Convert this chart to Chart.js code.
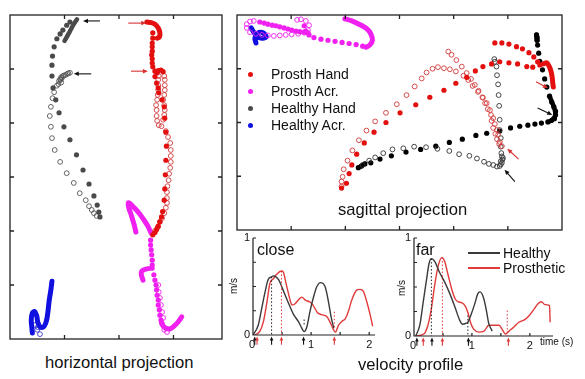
<!DOCTYPE html>
<html><head><meta charset="utf-8">
<script src="https://cdn.jsdelivr.net/npm/chart.js@4.4.0/dist/chart.umd.min.js"></script>
<style>
body{margin:0;background:#fff;width:585px;height:379px;overflow:hidden;position:relative;font-family:"Liberation Sans",Arial,sans-serif;color:#111;}
canvas{position:absolute;}
.t{position:absolute;white-space:nowrap;line-height:1;}
.dot{position:absolute;width:5px;height:5px;border-radius:50%;}
.ln{position:absolute;height:1.5px;width:32px;}
</style></head><body>
<canvas id="cH" style="left:0;top:0" width="230" height="345"></canvas>
<canvas id="cS" style="left:230px;top:0" width="355" height="235"></canvas>
<canvas id="cC" style="left:230px;top:225px" width="178" height="154"></canvas>
<canvas id="cF" style="left:400px;top:225px" width="185" height="154"></canvas>

<div class="t" style="left:45px;top:355px;font-size:16.6px">horizontal projection</div>
<div class="t" style="left:338px;top:202px;font-size:16.6px">sagittal projection</div>
<div class="t" style="left:358px;top:357px;font-size:16.6px">velocity profile</div>
<div class="t" style="left:257px;top:242px;font-size:16px">close</div>
<div class="t" style="left:416px;top:242px;font-size:16px">far</div>
<div class="t" style="left:226px;top:281px;font-size:10px;transform:rotate(-90deg)">m/s</div>
<div class="t" style="left:394px;top:283px;font-size:10px;transform:rotate(-90deg)">m/s</div>
<div class="t" style="left:540px;top:337px;font-size:10px">time (s)</div>

<div class="dot" style="left:248px;top:72px;background:#e41010"></div>
<div class="dot" style="left:248px;top:89px;background:#f020f0"></div>
<div class="dot" style="left:248px;top:106px;background:#4a4a4a"></div>
<div class="dot" style="left:248px;top:123px;background:#1010e0"></div>
<div class="t" style="left:271px;top:67px;font-size:14px">Prosth Hand</div>
<div class="t" style="left:271px;top:84px;font-size:14px">Prosth Acr.</div>
<div class="t" style="left:271px;top:101px;font-size:14px">Healthy Hand</div>
<div class="t" style="left:271px;top:118px;font-size:14px">Healthy Acr.</div>

<div class="ln" style="left:468px;top:252px;background:#3a3a3a"></div>
<div class="ln" style="left:468px;top:267px;background:#e03a3a"></div>
<div class="t" style="left:503px;top:246px;font-size:14px">Healthy</div>
<div class="t" style="left:503px;top:261px;font-size:14px">Prosthetic</div>

<script>
// ---------- horizontal projection (x: 0..3.89, y: 0..6) ----------
const horizTicksX = [1,2,3];
const horizTicksY = [1,2,3,4,5];
const horizHealthyHook = [[1.23,5.92],[1.17,5.83],[1.10,5.70],[1.03,5.57],[1.00,5.52]];
const horizHealthyFilled = [[1.10,5.87],[1.04,5.81],[0.97,5.72],[0.92,5.65],[0.86,5.56],[0.81,5.41],[0.78,5.24],[0.77,5.07],[0.77,4.87],[0.79,4.65],[0.84,4.43],[0.90,4.19],[0.99,3.93],[1.10,3.69],[1.22,3.41],[1.34,3.13],[1.45,2.87],[1.54,2.65],[1.60,2.48],[1.63,2.35],[1.65,2.26]];
const horizHealthyOpen = [[1.10,4.93],[1.07,4.92],[1.05,4.91],[1.02,4.89],[0.99,4.88],[0.97,4.87],[0.95,4.83],[0.94,4.85],[0.93,4.80],[0.92,4.81],[0.90,4.78],[0.94,4.75],[0.89,4.72],[0.86,4.69],[0.81,4.57],[0.78,4.46],[0.75,4.30],[0.73,4.13],[0.75,3.93],[0.77,3.72],[0.82,3.50],[0.92,3.28],[1.04,3.07],[1.17,2.89],[1.28,2.70],[1.39,2.57],[1.45,2.46],[1.50,2.39],[1.54,2.33],[1.59,2.28]];
const horizHealthyAcr = [[0.77,1.07],[0.75,0.91],[0.72,0.72],[0.70,0.54],[0.68,0.39],[0.65,0.28],[0.61,0.22],[0.55,0.23],[0.51,0.31],[0.49,0.43],[0.45,0.51],[0.41,0.48],[0.39,0.35],[0.40,0.22],[0.41,0.11]];
const horizHealthyAcrOpen = [[0.46,0.26],[0.50,0.17],[0.55,0.09],[0.51,0.22]];
const horizProsthHook = [[2.51,5.87],[2.59,5.86],[2.66,5.83],[2.72,5.76],[2.75,5.67],[2.74,5.59],[2.70,5.57]];
const horizProsthFilled = [[2.62,5.67],[2.62,5.57],[2.61,5.48],[2.61,5.41],[2.61,5.33],[2.60,5.26],[2.61,5.19],[2.61,5.11],[2.62,5.04],[2.66,4.96],[2.70,4.93],[2.72,4.97],[2.77,4.98],[2.81,4.95],[2.66,4.86],[2.69,4.74],[2.72,4.65],[2.73,4.56],[2.79,4.43],[2.83,4.30],[2.84,4.09],[2.86,3.83],[2.87,3.57],[2.86,3.31],[2.85,3.04],[2.84,2.78],[2.83,2.57],[2.80,2.36],[2.78,2.26],[2.75,2.17],[2.72,2.09],[2.69,2.03],[2.66,1.97],[2.62,1.93]];
const horizProsthOpen = [[2.83,4.87],[2.84,4.80],[2.84,4.70],[2.84,4.61],[2.83,4.52],[2.81,4.43],[2.83,4.33],[2.84,4.24],[2.83,4.15],[2.81,4.06],[2.78,3.94],[2.73,3.96],[2.70,4.04],[2.69,4.13],[2.69,4.24],[2.68,4.33],[2.70,4.43],[2.71,4.52],[2.72,4.61],[2.72,4.70],[2.72,4.80],[2.73,4.87],[2.86,3.85],[2.90,3.74],[2.94,3.63],[2.95,3.50],[2.95,3.39],[2.95,3.28],[2.94,3.17],[2.92,3.06],[2.91,2.94],[2.89,2.83],[2.88,2.72],[2.88,2.61],[2.88,2.52],[2.86,2.43],[2.83,2.33],[2.79,2.24],[2.75,2.17],[2.71,2.07],[2.66,2.00]];
const horizAcrHookTop = [[2.31,1.98],[2.28,2.11],[2.23,2.28],[2.18,2.43],[2.17,2.52],[2.20,2.51],[2.28,2.43],[2.37,2.33],[2.46,2.20],[2.53,2.09],[2.59,1.96]];
const horizAcrHookMid = [[2.61,1.31],[2.51,1.30],[2.42,1.26],[2.41,1.19],[2.44,1.09]];
const horizAcrHookLow = [[2.78,0.31],[2.81,0.24],[2.86,0.20],[2.94,0.19],[3.01,0.24],[3.08,0.31],[3.15,0.41]];
const horizAcrFilled = [[2.58,1.83],[2.58,1.74],[2.59,1.65],[2.60,1.56],[2.61,1.46],[2.61,1.37],[2.64,1.19],[2.66,1.09],[2.68,1.00],[2.69,0.91],[2.70,0.81],[2.72,0.72],[2.72,0.63],[2.74,0.54],[2.75,0.44],[2.77,0.35]];
const horizAcrOpen = [[2.72,1.00],[2.73,0.87],[2.75,0.76],[2.77,0.63],[2.79,0.50],[2.81,0.39],[2.79,0.28],[2.83,0.17],[2.88,0.13]];
const horizArrowsBlack = [[1.65,5.89,1.34,5.89],[1.49,4.91,1.17,4.91]];
const horizArrowsRed = [[2.17,5.85,2.50,5.85],[2.22,4.96,2.53,4.96]];

// ---------- sagittal projection (x: 0..6, y: 0..4) ----------
const sagTicksX = [1,2,3,4,5];
const sagTicksY = [1,2,3];
const sagAcrProsthThick = [[1.99,3.93],[2.12,3.89],[2.27,3.82],[2.40,3.74],[2.47,3.65],[2.50,3.53],[2.45,3.44],[2.38,3.40]];
const sagAcrProsthFilled = [[0.42,3.87],[0.50,3.85],[0.57,3.83],[0.65,3.81],[0.72,3.80],[0.79,3.78],[0.87,3.76],[0.94,3.74],[1.01,3.72],[1.09,3.70],[1.16,3.69],[1.24,3.68],[1.31,3.67],[2.32,3.42],[2.20,3.45],[2.07,3.47],[1.94,3.49],[1.81,3.51],[1.68,3.53],[1.55,3.55],[1.42,3.58],[1.33,3.63],[1.27,3.70],[1.24,3.80]];
const sagAcrProsthOpen = [[1.11,3.91],[1.18,3.92],[1.27,3.89],[1.33,3.81],[1.31,3.72],[1.24,3.67],[1.13,3.65],[1.01,3.64],[0.90,3.63],[0.79,3.62],[0.68,3.61],[0.57,3.62],[0.46,3.63],[0.35,3.65],[0.24,3.68],[0.18,3.76],[0.18,3.83],[0.24,3.88],[0.31,3.89]];
const sagAcrHealthy = [[0.26,3.76],[0.31,3.68],[0.37,3.61],[0.44,3.57],[0.54,3.59],[0.48,3.67],[0.39,3.67],[0.33,3.57],[0.35,3.48]];
const sagProsthFilled = [[1.93,0.78],[2.02,0.87],[2.07,1.05],[2.12,1.21],[2.21,1.41],[2.35,1.62],[2.53,1.82],[2.75,2.00],[3.01,2.18],[3.30,2.33],[3.56,2.47],[3.82,2.60],[4.04,2.73],[4.24,2.84],[4.40,2.96],[4.54,3.04],[4.70,3.09],[4.85,3.13],[5.02,3.11],[5.18,3.09],[5.35,3.04],[5.46,3.03],[5.59,3.07],[4.76,3.48],[4.89,3.48],[5.02,3.46],[5.16,3.41],[5.27,3.37],[5.39,3.30],[5.48,3.22],[5.55,3.13]];
const sagProsthThick = [[5.65,3.09],[5.72,3.11],[5.77,3.03],[5.80,2.94],[5.82,2.83],[5.83,2.73],[5.84,2.66]];
const sagProsthOpen = [[1.93,0.81],[1.93,0.90],[1.95,0.99],[1.97,1.13],[2.04,1.29],[2.13,1.48],[2.25,1.67],[2.39,1.85],[2.55,2.02],[2.75,2.18],[2.95,2.34],[3.13,2.51],[3.28,2.67],[3.41,2.82],[3.50,2.93],[3.61,3.00],[3.71,3.03],[3.82,3.01],[3.93,2.99],[4.04,2.95],[4.18,2.87],[4.27,2.79],[4.35,2.68],[4.45,2.57],[4.54,2.46],[4.61,2.36],[4.67,2.23],[4.73,2.08],[4.76,1.97],[4.80,1.86],[4.82,1.77],[4.85,1.64],[4.89,1.56],
  [3.90,3.32],[3.96,3.26],[4.05,3.16],[4.15,3.04],[4.24,2.92],[4.32,2.81],[4.39,2.70],[4.46,2.59],[4.53,2.47],[4.58,2.36],[4.63,2.25],[4.69,2.14],[4.70,2.03],[4.73,1.90],[4.77,1.79],[4.80,1.69],[4.84,1.60]];
const sagHealthyFilled = [[5.53,3.63],[5.54,3.58],[5.54,3.53],[5.55,3.44],[5.57,3.29],[5.59,3.14],[5.64,2.98],[5.68,2.81],[5.72,2.66],[5.77,2.49],[5.81,2.38],[5.85,2.29],[5.88,2.21],[5.88,2.14],[5.86,2.07],[5.81,2.04],[5.74,2.01],[5.62,1.99],[5.50,1.97],[5.37,1.95],[5.22,1.93],[5.05,1.90],[4.85,1.84],[4.61,1.80],[4.41,1.76],[4.16,1.69],[3.92,1.63],[3.67,1.56],[3.39,1.50],[3.12,1.45],[2.85,1.38],[2.64,1.32],[2.47,1.25],[2.36,1.23],[2.30,1.19],[2.24,1.16]];
const sagHealthyThickTop = [[5.53,3.63],[5.54,3.53]];
const sagHealthyThickCurve = [[5.77,2.49],[5.85,2.29],[5.88,2.14],[5.81,2.04],[5.74,2.01]];
const sagHealthyThickStart = [[2.24,1.16],[2.36,1.23]];
const sagHealthyOpen = [[2.32,1.21],[2.44,1.29],[2.55,1.35],[2.70,1.43],[2.87,1.50],[3.07,1.52],[3.27,1.55],[3.49,1.54],[3.70,1.51],[3.92,1.47],[4.10,1.41],[4.29,1.38],[4.43,1.33],[4.56,1.27],[4.65,1.23],[4.73,1.21],[4.80,1.18],[4.85,1.19],[4.89,1.25],[4.90,1.31],[4.89,1.37],[4.87,1.28],[4.91,1.34],[4.87,1.22],[4.88,1.43],[4.87,1.55],[4.87,1.71],[4.85,1.86],[4.85,2.05],[4.84,2.31],[4.83,2.51],[4.82,2.71],[4.80,2.88],[4.79,3.04],[4.76,3.13],[4.75,3.18]];
const sagArrowsBlack = [[5.55,2.27,5.82,2.14],[5.13,0.90,4.94,1.12]];
const sagArrowsRed = [[5.52,2.76,5.74,2.64],[5.20,1.32,4.99,1.51]];

// ---------- velocity profiles (t in s, v in m/s) ----------
const velTicksY = [0.25,0.5,0.75];
const velTicksX = [0.5,1,1.5,2];
const velLabelsX = [0,1,2];
const velLabelsY = [0,1];
const closeHealthy = [[0,0],[0.09,0.1],[0.15,0.275],[0.21,0.45],[0.26,0.57],[0.32,0.6],[0.35,0.61],[0.44,0.57],[0.52,0.46],[0.61,0.33],[0.69,0.22],[0.78,0.14],[0.84,0.07],[0.88,0.035],[0.93,0.09],[0.98,0.24],[1.05,0.41],[1.1,0.5],[1.16,0.54],[1.24,0.5],[1.30,0.34],[1.34,0.2],[1.39,0.07]];
const closeProsth = [[0.03,0],[0.12,0.04],[0.18,0.14],[0.24,0.34],[0.29,0.53],[0.35,0.58],[0.40,0.62],[0.49,0.66],[0.52,0.65],[0.57,0.53],[0.63,0.38],[0.67,0.31],[0.72,0.32],[0.78,0.36],[0.84,0.39],[0.90,0.36],[0.98,0.34],[1.03,0.31],[1.11,0.23],[1.18,0.21],[1.27,0.19],[1.32,0.14],[1.39,0.05],[1.42,0.03],[1.47,0.10],[1.53,0.14],[1.59,0.17],[1.64,0.24],[1.70,0.36],[1.78,0.46],[1.84,0.47],[1.90,0.45],[1.96,0.34],[2.02,0.2],[2.06,0.09]];
const farHealthy = [[0.03,0],[0.10,0.11],[0.16,0.35],[0.22,0.59],[0.26,0.74],[0.30,0.79],[0.36,0.76],[0.44,0.65],[0.53,0.55],[0.62,0.43],[0.71,0.29],[0.79,0.16],[0.84,0.12],[0.90,0.13],[0.93,0.14],[0.98,0.21],[1.05,0.33],[1.10,0.43],[1.14,0.45],[1.20,0.39],[1.25,0.26],[1.29,0.13],[1.35,0.05]];
const farProsth = [[0.03,0],[0.17,0.02],[0.24,0.11],[0.30,0.28],[0.36,0.53],[0.42,0.72],[0.48,0.8],[0.53,0.76],[0.59,0.62],[0.65,0.48],[0.71,0.38],[0.76,0.35],[0.82,0.34],[0.88,0.31],[0.93,0.24],[0.98,0.13],[1.03,0.07],[1.12,0.04],[1.21,0.05],[1.29,0.11],[1.38,0.11],[1.47,0.11],[1.52,0.07],[1.58,0.02],[1.64,0.05],[1.72,0.09],[1.81,0.14],[1.92,0.17],[1.99,0.21],[2.08,0.28],[2.14,0.33],[2.20,0.35],[2.26,0.32],[2.34,0.31],[2.35,0.14]];
const closeArrowsBlack = [0.03,0.32,0.87];
const closeArrowsRed = [0.07,0.49,1.40];
const farArrowsBlack = [0.05,0.31,0.94];
const farArrowsRed = [0.16,0.49,1.63];
const closeGuidesBlack = [[0.32,0.60,0],[0.88,0.16,0.10]];
const closeGuidesRed = [[0.49,0.66,0],[1.40,0.24,0.08]];
const farGuidesBlack = [[0.30,0.79,0],[0.93,0.21,0]];
const farGuidesRed = [[0.49,0.80,0],[1.61,0.26,0]];

// ---------- helpers ----------
const RED='#e41010', RED_O='#d23a3a', MAG='#f020f0', BLUE='#1010e0', GRAY='#4a4a4a', BLK='#111';
const toXY = a => a.map(([x,y])=>({x,y}));
const dots=(d,c,r)=>({data:toXY(d),showLine:false,pointRadius:r||2.6,pointBackgroundColor:c,pointBorderColor:c,pointBorderWidth:0});
const rings=(d,c,r)=>({data:toXY(d),showLine:false,pointRadius:r||2.4,pointBackgroundColor:'rgba(0,0,0,0)',pointBorderColor:c,pointBorderWidth:0.9});
const stroke=(d,c,w)=>({data:toXY(d),showLine:true,pointRadius:0,borderColor:c,borderWidth:w||5,borderCapStyle:'round',borderJoinStyle:'round',tension:0.3});
const curve=(d,c)=>({data:toXY(d),showLine:true,pointRadius:0,borderColor:c,borderWidth:1.4,tension:0.35,cubicInterpolationMode:'monotone'});

function arrow(ctx,x1,y1,x2,y2,c,h){
  h=h||5; const a=Math.atan2(y2-y1,x2-x1);
  ctx.strokeStyle=c; ctx.fillStyle=c; ctx.lineWidth=1.1;
  ctx.beginPath(); ctx.moveTo(x1,y1); ctx.lineTo(x2-Math.cos(a)*h*0.8,y2-Math.sin(a)*h*0.8); ctx.stroke();
  ctx.beginPath(); ctx.moveTo(x2,y2);
  ctx.lineTo(x2-h*Math.cos(a)+h*0.45*Math.sin(a), y2-h*Math.sin(a)-h*0.45*Math.cos(a));
  ctx.lineTo(x2-h*Math.cos(a)-h*0.45*Math.sin(a), y2-h*Math.sin(a)+h*0.45*Math.cos(a));
  ctx.closePath(); ctx.fill();
}

const deco = {
  id:'deco',
  afterDatasetsDraw(chart,args,o){
    const ctx=chart.ctx, a=chart.chartArea, X=chart.scales.x, Y=chart.scales.y;
    ctx.save();
    ctx.strokeStyle='#222'; ctx.lineWidth=1.3;
    const L=4;
    if(o.box){
      ctx.strokeRect(a.left,a.top,a.right-a.left,a.bottom-a.top);
      ctx.beginPath();
      (o.xTicks||[]).forEach(v=>{const p=X.getPixelForValue(v);ctx.moveTo(p,a.top);ctx.lineTo(p,a.top+L);ctx.moveTo(p,a.bottom);ctx.lineTo(p,a.bottom-L);});
      (o.yTicks||[]).forEach(v=>{const p=Y.getPixelForValue(v);ctx.moveTo(a.left,p);ctx.lineTo(a.left+L,p);ctx.moveTo(a.right,p);ctx.lineTo(a.right-L,p);});
      ctx.stroke();
    } else {
      ctx.lineWidth=1.2;
      ctx.beginPath(); ctx.moveTo(a.left,a.top); ctx.lineTo(a.left,a.bottom); ctx.lineTo(a.right,a.bottom); ctx.stroke();
      ctx.beginPath();
      (o.xTicks||[]).forEach(v=>{const p=X.getPixelForValue(v);ctx.moveTo(p,a.bottom);ctx.lineTo(p,a.bottom-3);});
      (o.yTicks||[]).forEach(v=>{const p=Y.getPixelForValue(v);ctx.moveTo(a.left,p);ctx.lineTo(a.left+3,p);});
      ctx.moveTo(a.left,a.top);ctx.lineTo(a.left+3,a.top);
      ctx.stroke();
      ctx.fillStyle='#111'; ctx.font='11px "Liberation Sans", Arial, sans-serif';
      ctx.textAlign='right'; ctx.textBaseline='middle';
      (o.yLabels||[]).forEach(v=>ctx.fillText(String(v),a.left-3,Y.getPixelForValue(v)));
      ctx.textAlign='center'; ctx.textBaseline='top';
      (o.xLabels||[]).forEach(v=>ctx.fillText(String(v),X.getPixelForValue(v)-(v===0?1:0),a.bottom+4));
      (o.guides||[]).forEach(g=>{
        g.list.forEach(([t,v0,v1])=>{
          ctx.strokeStyle=g.c; ctx.lineWidth=1; ctx.setLineDash([1.5,2]);
          ctx.beginPath(); ctx.moveTo(X.getPixelForValue(t),Y.getPixelForValue(v0)); ctx.lineTo(X.getPixelForValue(t),Y.getPixelForValue(v1)); ctx.stroke();
        });
      });
      ctx.setLineDash([]);
      (o.ticksArrows||[]).forEach(g=>{
        g.list.forEach(t=>{const p=X.getPixelForValue(t);arrow(ctx,p,Y.getPixelForValue(-0.1),p,Y.getPixelForValue(-0.015),g.c,4);});
      });
    }
    (o.arrows||[]).forEach(g=>{
      g.list.forEach(([x1,y1,x2,y2])=>arrow(ctx,X.getPixelForValue(x1),Y.getPixelForValue(y1),X.getPixelForValue(x2),Y.getPixelForValue(y2),g.c,5));
    });
    ctx.restore();
  }
};

function make(id,datasets,xr,yr,pad,decoOpt){
  return new Chart(document.getElementById(id),{
    type:'scatter',
    data:{datasets},
    plugins:[deco],
    options:{
      responsive:false,animation:false,events:[],
      layout:{padding:pad},
      scales:{
        x:{type:'linear',display:false,min:xr[0],max:xr[1]},
        y:{type:'linear',display:false,min:yr[0],max:yr[1]}
      },
      plugins:{legend:{display:false},tooltip:{enabled:false},deco:decoOpt}
    }
  });
}

make('cH',[
  stroke(horizHealthyHook,GRAY,4.5),
  dots(horizHealthyFilled,GRAY),
  rings(horizHealthyOpen,'#555'),
  stroke(horizHealthyAcr,BLUE,5),
  rings(horizHealthyAcrOpen,'#3a3ad0'),
  stroke(horizProsthHook,RED,5),
  dots(horizProsthFilled,RED),
  rings(horizProsthOpen,RED_O),
  stroke(horizAcrHookTop,MAG,5),
  stroke(horizAcrHookMid,MAG,5),
  stroke(horizAcrHookLow,MAG,5),
  dots(horizAcrFilled,MAG),
  rings(horizAcrOpen,MAG)
],[0,3.89],[0,6],{left:10,top:15,right:8,bottom:6},
{box:true,xTicks:horizTicksX,yTicks:horizTicksY,arrows:[{list:horizArrowsBlack,c:'#111'},{list:horizArrowsRed,c:'#d83030'}]});

make('cS',[
  stroke(sagAcrProsthThick,MAG,5),
  dots(sagAcrProsthFilled,MAG),
  rings(sagAcrProsthOpen,MAG),
  stroke(sagAcrHealthy,BLUE,5),
  dots(sagProsthFilled,RED),
  stroke(sagProsthThick,RED,5),
  rings(sagProsthOpen,RED_O),
  rings(sagHealthyOpen,'#333'),
  dots(sagHealthyFilled,'#000'),
  stroke(sagHealthyThickTop,'#000',5),
  stroke(sagHealthyThickCurve,'#000',4.5),
  stroke(sagHealthyThickStart,'#000',4.5)
],[0,6],[0,4],{left:7,top:15,right:23,bottom:5},
{box:true,xTicks:sagTicksX,yTicks:sagTicksY,arrows:[{list:sagArrowsBlack,c:'#111'},{list:sagArrowsRed,c:'#d83030'}]});

make('cC',[
  curve(closeHealthy,'#3a3a3a'),
  curve(closeProsth,'#e03a3a')
],[0,2.1],[0,1],{left:23,top:13,right:33,bottom:44},
{box:false,xTicks:velTicksX,yTicks:velTicksY,xLabels:velLabelsX,yLabels:velLabelsY,
 guides:[{list:closeGuidesBlack,c:'#222'},{list:closeGuidesRed,c:'#e03a3a'}],
 ticksArrows:[{list:closeArrowsBlack,c:'#111'},{list:closeArrowsRed,c:'#e03a3a'}]});

make('cF',[
  curve(farHealthy,'#3a3a3a'),
  curve(farProsth,'#e03a3a')
],[0,2.4],[0,1],{left:14,top:13,right:32,bottom:43},
{box:false,xTicks:velTicksX,yTicks:velTicksY,xLabels:velLabelsX,yLabels:velLabelsY,
 guides:[{list:farGuidesBlack,c:'#222'},{list:farGuidesRed,c:'#e03a3a'}],
 ticksArrows:[{list:farArrowsBlack,c:'#111'},{list:farArrowsRed,c:'#e03a3a'}]});
</script>
</body></html>
